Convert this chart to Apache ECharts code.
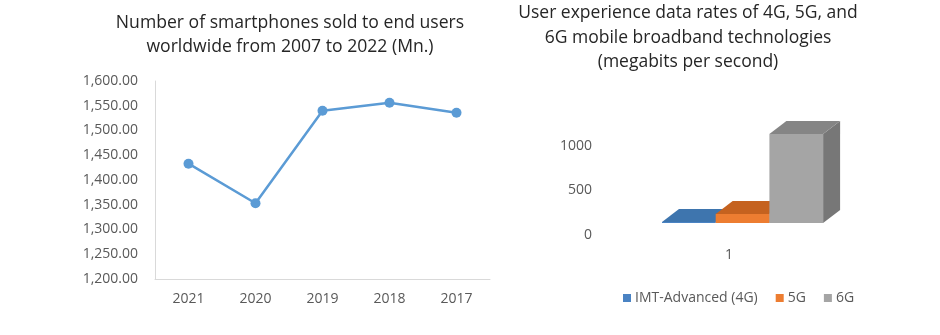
<!DOCTYPE html>
<html>
<head>
<meta charset="utf-8">
<script src="https://cdn.jsdelivr.net/npm/echarts@6/dist/echarts.min.js"></script>
<style>
html,body{margin:0;padding:0;background:#fff;}
#c{width:940px;height:335px;}
</style>
</head>
<body>
<div id="c"></div>
<script>
// Left chart data
const years = ['2021', '2020', '2019', '2018', '2017'];
const smartphoneSales = [1433, 1353, 1540, 1556, 1536];
const salesTicks = { min: 1200, max: 1600, interval: 50 };

// Right chart data
const rateCategories = ['1'];
const techNames = ['IMT-Advanced (4G)', '5G', '6G'];
const rate4G = [10];
const rate5G = [100];
const rate6G = [1000];
const rateTicks = { min: 0, max: 1000, interval: 500 };

const chart = echarts.init(document.getElementById('c'));
const FONT = '"Open Sans", "Noto Sans", sans-serif';
const labelColor = '#595959';

// 3D bar colors: front, top, side
const barColors = [
  { front: '#4A83C3', top: '#3E75AE', side: '#35669A', legend: '#4A83C3' },
  { front: '#ED7D31', top: '#C5621F', side: '#B0561A', legend: '#ED7D31' },
  { front: '#A5A5A5', top: '#858585', side: '#777777', legend: '#A5A5A5' }
];

function make3DRender(idx) {
  return function (params, api) {
    const cat = api.value(0);
    const val = api.value(1);
    const base = api.coord([cat, 0]);
    const topPt = api.coord([cat, val]);
    const h = base[1] - topPt[1];
    const lift = 12;       // floor sits above the 0 label
    const barW = 53.7;
    const dx = 17, dy = -13;
    const x0 = base[0] - 67 + barW * idx;
    const x1 = x0 + barW;
    const yb = base[1] - lift;
    const yt = yb - Math.max(h, 1);
    const c = barColors[idx];
    const children = [];
    children.push({ type: 'polygon', shape: { points: [[x1, yb], [x1 + dx, yb + dy], [x1 + dx, yt + dy], [x1, yt]] }, style: { fill: c.side } });
    children.push({ type: 'polygon', shape: { points: [[x0, yt], [x0 + dx, yt + dy], [x1 + dx, yt + dy], [x1, yt]] }, style: { fill: c.top } });
    children.push({ type: 'rect', shape: { x: x0, y: yt, width: barW, height: yb - yt }, style: { fill: c.front } });
    return { type: 'group', children: children };
  };
}

const dataSets = [rate4G, rate5G, rate6G];
const customSeries = techNames.map(function (name, i) {
  return {
    name: name,
    type: 'custom',
    xAxisIndex: 1,
    yAxisIndex: 1,
    clip: false,
    z: 2 + i,
    itemStyle: { color: barColors[i].legend },
    renderItem: make3DRender(i),
    encode: { x: 0, y: 1 },
    data: rateCategories.map(function (c, k) { return [k, dataSets[i][k]]; })
  };
});

chart.setOption({
  animation: false,
  backgroundColor: '#ffffff',
  textStyle: { fontFamily: FONT },
  title: [
    {
      text: 'Number of smartphones sold to end users\nworldwide from 2007 to 2022 (Mn.)',
      left: 290, top: 11, padding: 0, textAlign: 'center',
      textStyle: { fontFamily: FONT, fontSize: 17.6, fontWeight: 'normal', color: '#262626', lineHeight: 24 }
    },
    {
      text: 'User experience data rates of 4G, 5G, and\n6G mobile broadband technologies\n(megabits per second)',
      left: 688, top: 1, padding: 0, textAlign: 'center',
      textStyle: { fontFamily: FONT, fontSize: 17.5, fontWeight: 'normal', color: '#262626', lineHeight: 24.5 }
    }
  ],
  legend: {
    data: techNames,
    left: 618, top: 286,
    icon: 'rect', itemWidth: 8, itemHeight: 8, itemGap: 18,
    textStyle: { fontFamily: FONT, fontSize: 14, color: labelColor, padding: [0, 0, 0, -1] }
  },
  grid: [
    { left: 155, top: 81, width: 335, height: 198 },
    { left: 600, top: 146, width: 258, height: 89 }
  ],
  xAxis: [
    {
      gridIndex: 0, type: 'category', data: years, boundaryGap: true,
      axisLine: { show: true, lineStyle: { color: '#d9d9d9', width: 1 } },
      axisTick: { show: false },
      axisLabel: { color: labelColor, fontSize: 14, margin: 13, fontFamily: FONT }
    },
    {
      gridIndex: 1, type: 'category', data: rateCategories,
      axisLine: { show: false }, axisTick: { show: false },
      axisLabel: { color: labelColor, fontSize: 14, margin: 13, fontFamily: FONT }
    }
  ],
  yAxis: [
    {
      gridIndex: 0, type: 'value', min: salesTicks.min, max: salesTicks.max, interval: salesTicks.interval,
      axisLine: { show: true, lineStyle: { color: '#d9d9d9', width: 1 } },
      axisTick: { show: false },
      splitLine: { show: false },
      axisLabel: {
        color: labelColor, fontSize: 14, margin: 17, fontFamily: FONT,
        formatter: function (v) { return v.toLocaleString('en-US', { minimumFractionDigits: 2, maximumFractionDigits: 2 }); }
      }
    },
    {
      gridIndex: 1, type: 'value', min: rateTicks.min, max: rateTicks.max, interval: rateTicks.interval,
      axisLine: { show: false }, axisTick: { show: false }, splitLine: { show: false },
      axisLabel: { color: labelColor, fontSize: 14, margin: 8, fontFamily: FONT, formatter: function (v) { return String(v); } }
    }
  ],
  series: [
    {
      name: 'Smartphones sold',
      type: 'line',
      xAxisIndex: 0, yAxisIndex: 0,
      data: smartphoneSales,
      symbol: 'circle', symbolSize: 10,
      lineStyle: { color: '#5B9BD5', width: 2.5 },
      itemStyle: { color: '#5B9BD5' }
    }
  ].concat(customSeries)
});
</script>
</body>
</html>
